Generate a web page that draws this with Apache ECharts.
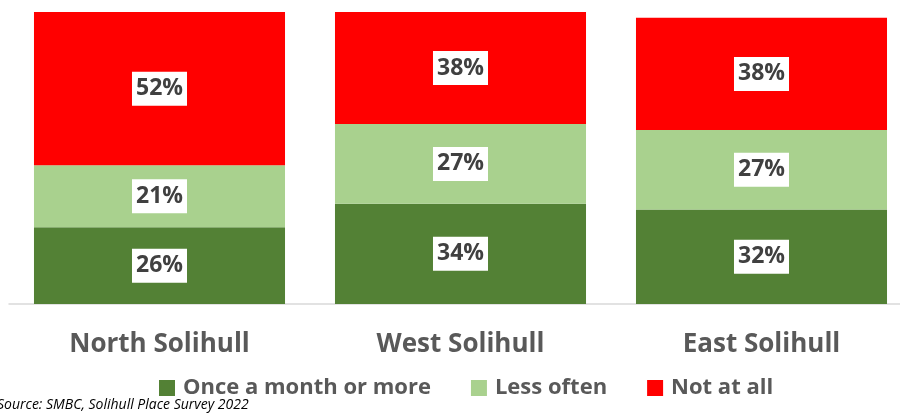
<!DOCTYPE html>
<html>
<head>
<meta charset="utf-8">
<script src="https://cdn.jsdelivr.net/npm/echarts@6/dist/echarts.min.js"></script>
<style>
  html, body { margin: 0; padding: 0; background: #ffffff; }
  #chart { width: 900px; height: 419px; }
</style>
</head>
<body>
<div id="chart"></div>
<script>
// Visit frequency by area (percent of respondents)
const areas = ['North Solihull', 'West Solihull', 'East Solihull'];
const onceAMonth = [26, 34, 32];
const lessOften = [21, 27, 27];
const notAtAll = [52, 38, 38];
const seriesNames = ['Once a month or more', 'Less often', 'Not at all'];
const seriesColors = ['#538135', '#A9D18E', '#FF0000'];
const sourceNote = 'Source: SMBC, Solihull Place Survey 2022';

const font = '"Open Sans", "Liberation Sans", sans-serif';

const valueLabel = {
  show: true,
  position: 'inside',
  formatter: p => p.value + '%',
  backgroundColor: '#ffffff',
  color: '#404040',
  fontFamily: font,
  fontWeight: 'bold',
  fontSize: 23,
  padding: [6, 4, 5, 4]
};

const chart = echarts.init(document.getElementById('chart'));
chart.setOption({
  animation: false,
  textStyle: { fontFamily: font },
  grid: { left: 9, top: 9, width: 903, height: 295, containLabel: false, outerBoundsMode: 'none' },
  legend: {
    data: seriesNames,
    bottom: 15,
    left: 154,
    itemWidth: 16,
    itemHeight: 16,
    itemGap: 40,
    icon: 'rect',
    textStyle: { color: '#595959', fontFamily: font, fontWeight: 'bold', fontSize: 22, padding: [0, 0, 0, 3] }
  },
  xAxis: {
    type: 'category',
    data: areas,
    axisLine: { show: true, lineStyle: { color: '#d9d9d9', width: 1.5 } },
    axisTick: { show: false },
    axisLabel: { color: '#595959', fontFamily: font, fontWeight: 'bold', fontSize: 26, margin: 28 }
  },
  yAxis: {
    type: 'value',
    min: 0,
    max: 100,
    show: false,
    splitLine: { show: false }
  },
  series: [
    { name: seriesNames[0], type: 'bar', stack: 'total', data: onceAMonth, barCategoryGap: '16.6%', itemStyle: { color: seriesColors[0] }, label: valueLabel },
    { name: seriesNames[1], type: 'bar', stack: 'total', data: lessOften, itemStyle: { color: seriesColors[1] }, label: valueLabel },
    { name: seriesNames[2], type: 'bar', stack: 'total', data: notAtAll, itemStyle: { color: seriesColors[2] }, label: valueLabel }
  ],
  graphic: [{
    type: 'text',
    left: -3,
    top: 398,
    style: { text: sourceNote, fill: '#000000', font: 'italic 14px ' + font }
  }]
});
</script>
</body>
</html>
